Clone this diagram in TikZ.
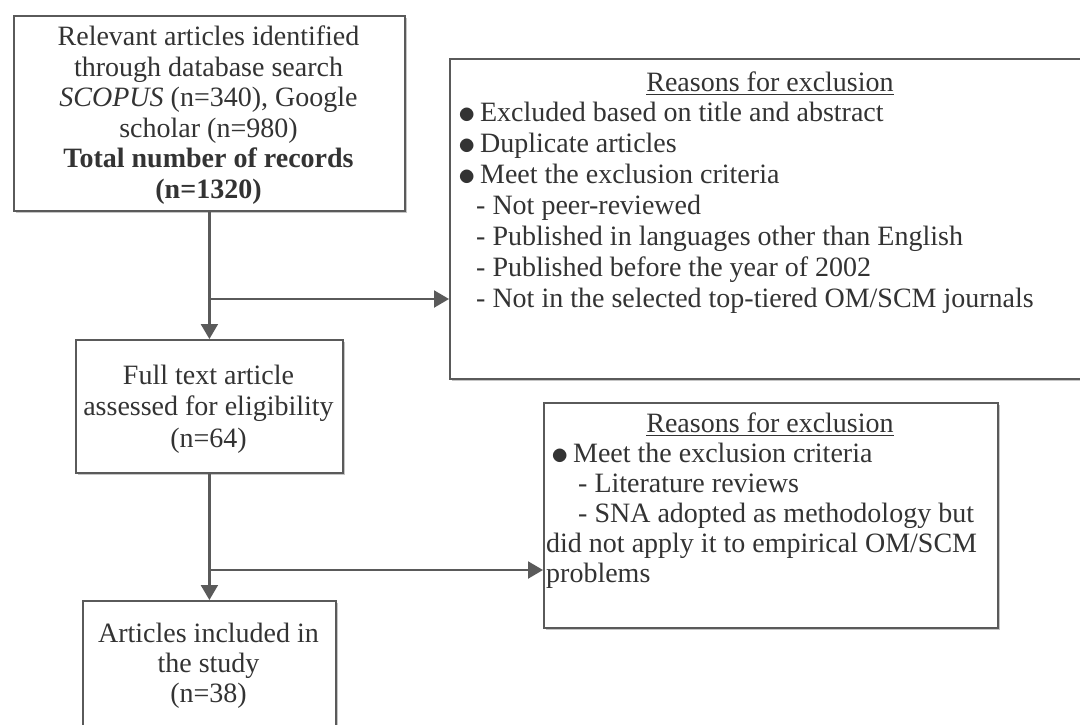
\documentclass[tikz,border=0pt]{standalone}
\usepackage{fontspec}
\usepackage{graphicx}
\setmainfont{Liberation Serif}
\usetikzlibrary{arrows.meta,shadows}
\definecolor{lncol}{HTML}{5A5A5A}
\definecolor{txcol}{HTML}{333333}
\newcommand{\bigdot}{\smash{\raisebox{-2pt}{\scalebox{1.4}{$\bullet$}}}}
\tikzset{
 box/.style={draw=lncol, line width=1.8pt, fill=white, inner sep=0pt, anchor=north west,
   drop shadow={shadow xshift=2.5pt, shadow yshift=-2.5pt, fill=black!45, opacity=0.5}},
 txt/.style={text=txcol, inner sep=0pt, font=\fontsize{28}{30.5}\selectfont, align=center},
 lst/.style={txt, align=left, anchor=west},
 conn/.style={draw=lncol, line width=2.2pt},
 arr/.style={conn, -{Triangle[width=17pt,length=15pt]}},
 uline/.style={draw=txcol, line width=1.2pt},
}
\begin{document}
\begin{tikzpicture}[x=1pt,y=-1pt]
\useasboundingbox (0,0) rectangle (1080,724);
\clip (0,0) rectangle (1080,724);
% box 1
\node[box, minimum width=391pt, minimum height=195pt] (b1) at (13,15) {};
\node[txt] (b1t) at (208.5,115) {Relevant articles identified\\through database search\\\textit{SCOPUS} (n=340), Google\\scholar (n=980)\\\textbf{Total number of records}\\\textbf{(n=1320)}};
% box 2
\node[box, minimum width=650pt, minimum height=320pt] (b2) at (449,58) {};
\node[txt, anchor=base] (b2h) at (770,91) {Reasons for exclusion};
\draw[uline] ([yshift=-3.5pt]b2h.base west) -- ([yshift=-3.5pt]b2h.base east);
\node[lst, font=\fontsize{28}{31}\selectfont] (b2l) at (452,208) {\hspace*{6pt}\bigdot\hspace*{4.5pt}Excluded based on title and abstract\\
\hspace*{6pt}\bigdot\hspace*{4.5pt}Duplicate articles\\
\hspace*{6pt}\bigdot\hspace*{4.5pt}Meet the exclusion criteria\\
\hspace*{24pt}- Not peer-reviewed\\
\hspace*{24pt}- Published in languages other than English\\
\hspace*{24pt}- Published before the year of 2002\\
\hspace*{24pt}- Not in the selected top-tiered OM/SCM journals};
% box 3
\node[box, minimum width=267pt, minimum height=133pt] (b3) at (75,339) {};
\node[txt, font=\fontsize{28}{31.5}\selectfont] (b3t) at (208.5,409) {Full text article\\assessed for eligibility\\(n=64)};
% box 4
\node[box, minimum width=454pt, minimum height=225pt] (b4) at (543,402) {};
\node[txt, anchor=base] (b4h) at (770,432) {Reasons for exclusion};
\draw[uline] ([yshift=-3.5pt]b4h.base west) -- ([yshift=-3.5pt]b4h.base east);
\node[lst, font=\fontsize{28}{30}\selectfont] (b4l) at (546,516) {\hspace*{5pt}\bigdot\hspace*{4.5pt}Meet the exclusion criteria\\
\hspace*{32pt}- Literature reviews\\
\hspace*{32pt}- SNA adopted as methodology but\\
did not apply it to empirical OM/SCM\\
problems};
% box 5
\node[box, minimum width=253pt, minimum height=200pt] (b5) at (82,600) {};
\node[txt, font=\fontsize{28}{30}\selectfont] (b5t) at (208.5,666) {Articles included in\\the study\\(n=38)};
% connectors
\coordinate (j1) at (208.5,299);
\coordinate (j2) at (208.5,570);
\draw[arr] (b1.south) -- (b3.north);
\draw[arr] (j1) -- (j1 -| b2.west);
\draw[arr] (b3.south) -- (b5.north);
\draw[arr] (j2) -- (j2 -| b4.west);
\end{tikzpicture}
\end{document}
